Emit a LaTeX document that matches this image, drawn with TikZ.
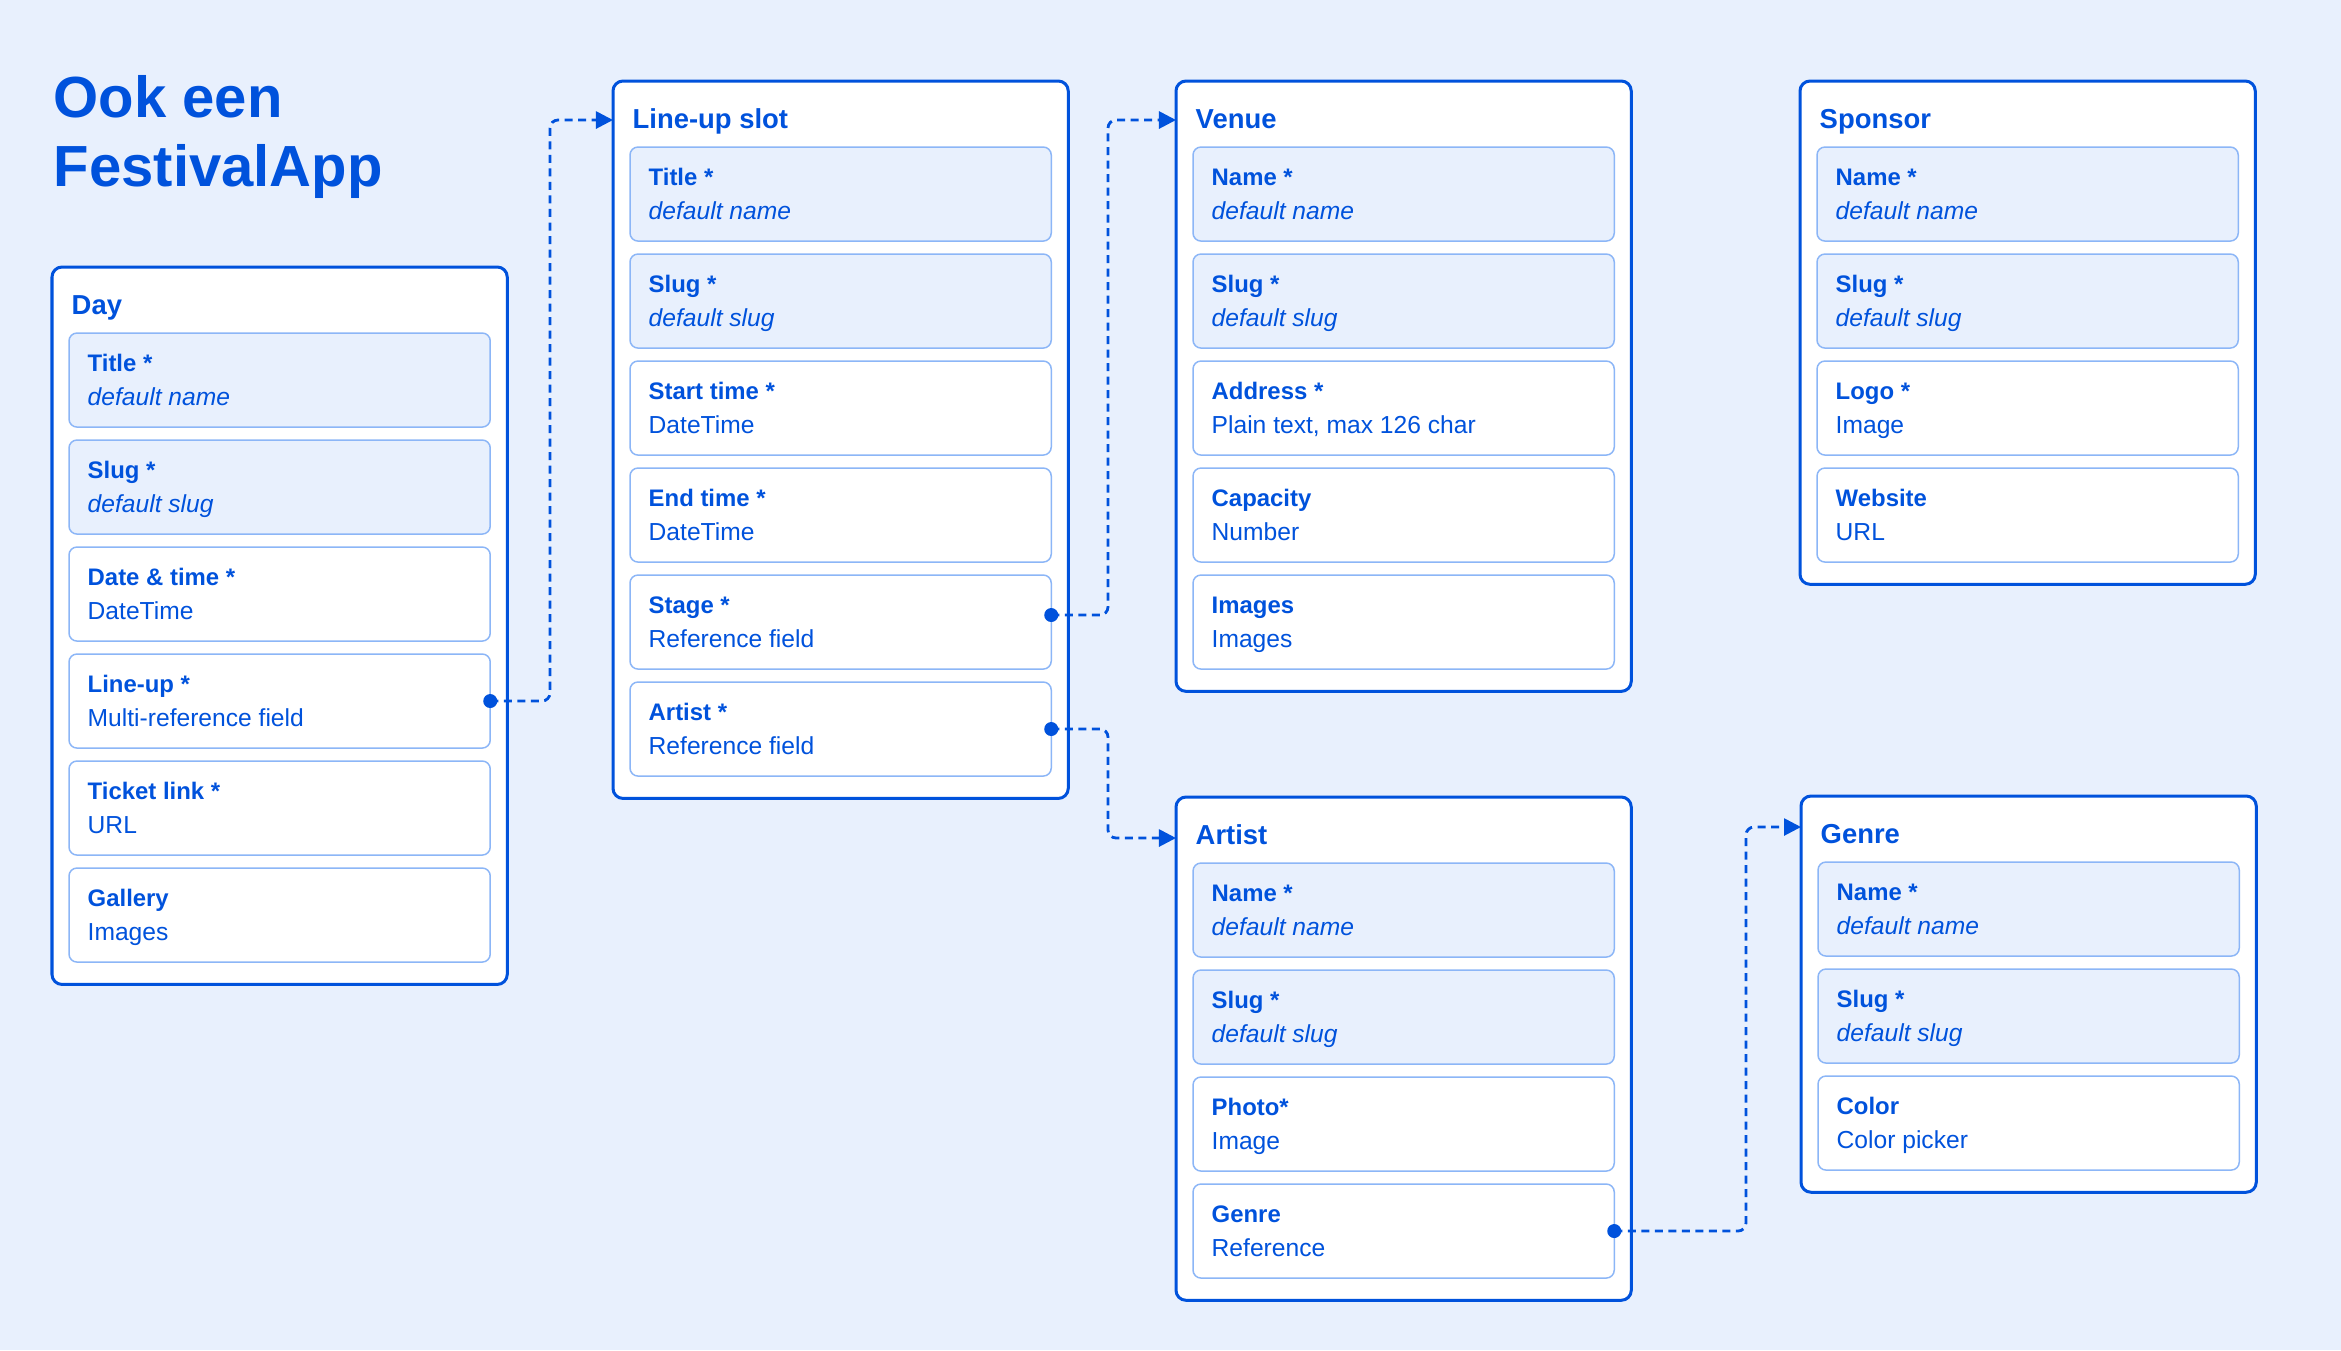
\documentclass[tikz,border=0pt]{standalone}
\usepackage{fontspec}
\setmainfont{Liberation Sans}
\usetikzlibrary{calc,positioning,arrows.meta}
\definecolor{bgblue}{RGB}{232,240,253}
\definecolor{ink}{RGB}{0,82,220}
\definecolor{fieldline}{RGB}{140,182,247}

\begin{document}
\begin{tikzpicture}[x=0.01cm, y=-0.01cm,
  bigtitle/.style={anchor=base west, inner sep=0pt, text=ink,
    font=\fontsize{16.5}{20}\selectfont\bfseries},
  tab/.style={draw=ink, line width=0.03cm, fill=white, rounded corners=0.1cm,
    anchor=north west, minimum width=4.55cm, inner sep=0pt, outer sep=0pt},
  tabtitle/.style={anchor=base west, inner sep=0pt, text=ink,
    font=\fontsize{7.8}{9}\selectfont\bfseries},
  field/.style={draw=fieldline, line width=0.015cm, rounded corners=0.08cm,
    anchor=north west, minimum width=4.21cm, minimum height=0.94cm,
    inner sep=0pt, outer sep=0pt},
  soft/.style={fill=bgblue},
  plain/.style={fill=white},
  fieldkey/.style={anchor=base west, inner sep=0pt, text=ink,
    font=\fontsize{6.8}{8}\selectfont\bfseries},
  fieldval/.style={anchor=base west, inner sep=0pt, text=ink,
    font=\fontsize{7}{8}\selectfont},
  soft-text/.style={font=\fontsize{7}{8}\selectfont\itshape},
  plain-text/.style={},
  dot/.style={circle, fill=ink, minimum size=0.14cm, inner sep=0pt},
  link/.style={ink, line width=0.028cm, dash pattern=on 0.08cm off 0.055cm,
    rounded corners=0.08cm, -{Triangle[length=0.17cm, width=0.17cm]}}
]
  % Background
  \fill[bgblue] (0,0) rectangle (2341,1350);

  % Title
  \node[bigtitle] (title1) at (53,117) {Ook een};
  \node[bigtitle] (title2) at (53,186) {FestivalApp};

  % Day
  \node[tab, minimum height=7.17cm] (day) at (52,267) {};
  \node[tabtitle] (day-t) at ($(day.north west)+(19,47)$) {Day};
  \foreach \i/\k/\v/\s in {1/Title */default name/soft, 2/Slug */default slug/soft,
      3/Date \& time */DateTime/plain, 4/Line-up */Multi-reference field/plain,
      5/Ticket link */URL/plain, 6/Gallery/Images/plain}{
    \node[field, \s] (day-\i) at ($(day.north west)+(17,107*\i-41)$) {};
    \node[fieldkey] (day-\i-k) at ($(day-\i.north west)+(18,38)$) {\k};
    \node[fieldval, \s-text] (day-\i-v) at ($(day-\i.north west)+(18,72)$) {\v};
  }

  % Line-up slot
  \node[tab, minimum height=7.17cm] (ls) at (613,81) {};
  \node[tabtitle] (ls-t) at ($(ls.north west)+(19,47)$) {Line-up slot};
  \foreach \i/\k/\v/\s in {1/Title */default name/soft, 2/Slug */default slug/soft,
      3/Start time */DateTime/plain, 4/End time */DateTime/plain,
      5/Stage */Reference field/plain, 6/Artist */Reference field/plain}{
    \node[field, \s] (ls-\i) at ($(ls.north west)+(17,107*\i-41)$) {};
    \node[fieldkey] (ls-\i-k) at ($(ls-\i.north west)+(18,38)$) {\k};
    \node[fieldval, \s-text] (ls-\i-v) at ($(ls-\i.north west)+(18,72)$) {\v};
  }

  % Venue
  \node[tab, minimum height=6.10cm] (vn) at (1176,81) {};
  \node[tabtitle] (vn-t) at ($(vn.north west)+(19,47)$) {Venue};
  \foreach \i/\k/\v/\s in {1/Name */default name/soft, 2/Slug */default slug/soft,
      3/Address */{Plain text, max 126 char}/plain, 4/Capacity/Number/plain,
      5/Images/Images/plain}{
    \node[field, \s] (vn-\i) at ($(vn.north west)+(17,107*\i-41)$) {};
    \node[fieldkey] (vn-\i-k) at ($(vn-\i.north west)+(18,38)$) {\k};
    \node[fieldval, \s-text] (vn-\i-v) at ($(vn-\i.north west)+(18,72)$) {\v};
  }

  % Sponsor
  \node[tab, minimum height=5.03cm] (sp) at (1800,81) {};
  \node[tabtitle] (sp-t) at ($(sp.north west)+(19,47)$) {Sponsor};
  \foreach \i/\k/\v/\s in {1/Name */default name/soft, 2/Slug */default slug/soft,
      3/Logo */Image/plain, 4/Website/URL/plain}{
    \node[field, \s] (sp-\i) at ($(sp.north west)+(17,107*\i-41)$) {};
    \node[fieldkey] (sp-\i-k) at ($(sp-\i.north west)+(18,38)$) {\k};
    \node[fieldval, \s-text] (sp-\i-v) at ($(sp-\i.north west)+(18,72)$) {\v};
  }

  % Artist
  \node[tab, minimum height=5.03cm] (ar) at (1176,797) {};
  \node[tabtitle] (ar-t) at ($(ar.north west)+(19,47)$) {Artist};
  \foreach \i/\k/\v/\s in {1/Name */default name/soft, 2/Slug */default slug/soft,
      3/Photo*/Image/plain, 4/Genre/Reference/plain}{
    \node[field, \s] (ar-\i) at ($(ar.north west)+(17,107*\i-41)$) {};
    \node[fieldkey] (ar-\i-k) at ($(ar-\i.north west)+(18,38)$) {\k};
    \node[fieldval, \s-text] (ar-\i-v) at ($(ar-\i.north west)+(18,72)$) {\v};
  }

  % Genre
  \node[tab, minimum height=3.96cm] (gn) at (1801,796) {};
  \node[tabtitle] (gn-t) at ($(gn.north west)+(19,47)$) {Genre};
  \foreach \i/\k/\v/\s in {1/Name */default name/soft, 2/Slug */default slug/soft,
      3/Color/Color picker/plain}{
    \node[field, \s] (gn-\i) at ($(gn.north west)+(17,107*\i-41)$) {};
    \node[fieldkey] (gn-\i-k) at ($(gn-\i.north west)+(18,38)$) {\k};
    \node[fieldval, \s-text] (gn-\i-v) at ($(gn-\i.north west)+(18,72)$) {\v};
  }

  % References
  \coordinate (ls-in) at ($(ls.north west)+(0,39)$);
  \coordinate (vn-in) at ($(vn.north west)+(0,39)$);
  \coordinate (ar-in) at ($(ar.north west)+(0,41)$);
  \coordinate (gn-in) at ($(gn.north west)+(0,31)$);
  \node[dot] (day-4-d) at (day-4.east) {};
  \node[dot] (ls-5-d) at ([yshift=0.07cm]ls-5.east) {};
  \node[dot] (ls-6-d) at (ls-6.east) {};
  \node[dot] (ar-4-d) at (ar-4.east) {};
  \draw[link] (day-4-d.center) -| ($(ls-in)+(-63,0)$) -- (ls-in);
  \draw[link] (ls-5-d.center) -| ($(vn-in)+(-68,0)$) -- (vn-in);
  \draw[link] (ls-6-d.center) -| ($(ar-in)+(-68,0)$) -- (ar-in);
  \draw[link] (ar-4-d.center) -| ($(gn-in)+(-55,0)$) -- (gn-in);
\end{tikzpicture}
\end{document}
